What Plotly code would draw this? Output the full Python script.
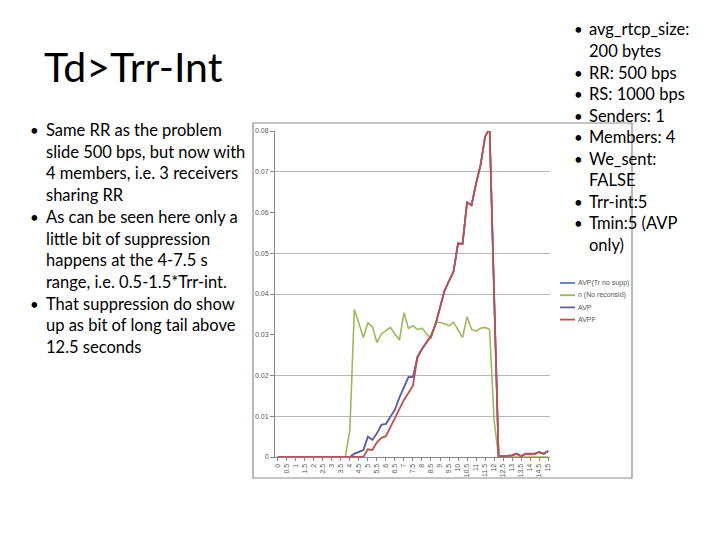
import plotly.graph_objects as go

# ---------------- data ----------------
times = [0, 0.25, 0.5, 0.75, 1, 1.25, 1.5, 1.75, 2, 2.25, 2.5, 2.75, 3, 3.25, 3.5, 3.75,
         4, 4.25, 4.5, 4.75, 5, 5.25, 5.5, 5.75, 6, 6.25, 6.5, 6.75, 7, 7.25, 7.5, 7.75,
         8, 8.25, 8.5, 8.75, 9, 9.25, 9.5, 9.75, 10, 10.25, 10.5, 10.75, 11, 11.25, 11.5, 11.75,
         12, 12.25, 12.5, 12.75, 13, 13.25, 13.5, 13.75, 14, 14.25, 14.5, 14.75, 15]

avp_no_supp = [0, 0, 0, 0, 0, 0, 0, 0, 0, 0, 0, 0, 0, 0, 0, 0,
               0, 0.0008, 0.0012, 0.0017, 0.0050, 0.0042, 0.0058, 0.0079, 0.0081, 0.0100, 0.0116, 0.0146,
               0.0171, 0.0196, 0.0196, 0.0245, 0.0265, 0.0281, 0.0297, 0.0325, 0.0368, 0.0408, 0.0432, 0.0455,
               0.0524, 0.0523, 0.0625, 0.0618, 0.0671, 0.0717, 0.0786, 0.0807, 0.0400, 0.0002, 0.0002, 0.0003,
               0.0004, 0.0008, 0.0002, 0.0008, 0.0008, 0.0008, 0.0012, 0.0008, 0.0015]

no_reconsid = [0, 0, 0, 0, 0, 0, 0, 0, 0, 0, 0, 0, 0, 0, 0, 0,
               0.0066, 0.0362, 0.0328, 0.0293, 0.0329, 0.0320, 0.0281, 0.0302, 0.0310, 0.0318, 0.0302, 0.0287,
               0.0354, 0.0316, 0.0322, 0.0313, 0.0316, 0.0304, 0.0290, 0.0330, 0.0330, 0.0327, 0.0322, 0.0331,
               0.0311, 0.0293, 0.0344, 0.0313, 0.0309, 0.0316, 0.0318, 0.0313, 0.0090, 0, 0, 0,
               0, 0, 0, 0, 0, 0, 0, 0, 0]

avp = [0, 0, 0, 0, 0, 0, 0, 0, 0, 0, 0, 0, 0, 0, 0, 0,
       0, 0.0008, 0.0012, 0.0017, 0.0050, 0.0042, 0.0058, 0.0079, 0.0081, 0.0100, 0.0116, 0.0146,
       0.0171, 0.0196, 0.0196, 0.0245, 0.0265, 0.0281, 0.0297, 0.0325, 0.0368, 0.0408, 0.0432, 0.0455,
       0.0524, 0.0523, 0.0625, 0.0618, 0.0671, 0.0717, 0.0786, 0.0807, 0.0400, 0.0002, 0.0002, 0.0003,
       0.0004, 0.0008, 0.0002, 0.0008, 0.0008, 0.0008, 0.0012, 0.0008, 0.0015]

avpf = [0, 0, 0, 0, 0, 0, 0, 0, 0, 0, 0, 0, 0, 0, 0, 0,
        0, 0, 0, 0, 0.0019, 0.0017, 0.0036, 0.0047, 0.0051, 0.0074, 0.0093, 0.0120,
        0.0140, 0.0157, 0.0175, 0.0245, 0.0265, 0.0281, 0.0297, 0.0325, 0.0368, 0.0408, 0.0432, 0.0455,
        0.0524, 0.0523, 0.0625, 0.0618, 0.0671, 0.0717, 0.0786, 0.0807, 0.0400, 0.0002, 0.0002, 0.0003,
        0.0004, 0.0008, 0.0002, 0.0008, 0.0008, 0.0008, 0.0012, 0.0008, 0.0015]

x_tick_vals = [0, 0.5, 1, 1.5, 2, 2.5, 3, 3.5, 4, 4.5, 5, 5.5, 6, 6.5, 7, 7.5, 8, 8.5, 9, 9.5,
               10, 10.5, 11, 11.5, 12, 12.5, 13, 13.5, 14, 14.5, 15]
x_tick_text = ["0", "0.5", "1", "1.5", "2", "2.5", "3", "3.5", "4", "4.5", "5", "5.5", "6", "6.5",
               "7", "7.5", "8", "8.5", "9", "9.5", "10", "10.5", "11", "11.5", "12", "12.5", "13",
               "13.5", "14", "14.5", "15"]
y_tick_vals = [0, 0.01, 0.02, 0.03, 0.04, 0.05, 0.06, 0.07, 0.08]
y_tick_text = ["0", "0.01", "0.02", "0.03", "0.04", "0.05", "0.06", "0.07", "0.08"]
y_grid_vals = [0.01, 0.02, 0.04, 0.05, 0.07, 0.08]

series_names = ["AVP(Tr no supp)", "n (No reconsid)", "AVP", "AVPF"]
series_colors = ["#4F81BD", "#9BBB59", "#6A5AA8", "#C0504D"]

title_text = "Td&gt;Trr-Int"
left_lines = [
    ("•", "Same RR as the problem"),
    ("", "slide 500 bps, but now with"),
    ("", "4 members, i.e. 3 receivers"),
    ("", "sharing RR"),
    ("•", "As can be seen here only a"),
    ("", "little bit of suppression"),
    ("", "happens at the 4-7.5 s"),
    ("", "range, i.e. 0.5-1.5*Trr-int."),
    ("•", "That suppression do show"),
    ("", "up as bit of long tail above"),
    ("", "12.5 seconds"),
]
right_lines = [
    ("•", "avg_rtcp_size:"),
    ("", "200 bytes"),
    ("•", "RR: 500 bps"),
    ("•", "RS: 1000 bps"),
    ("•", "Senders: 1"),
    ("•", "Members: 4"),
    ("•", "We_sent:"),
    ("", "FALSE"),
    ("•", "Trr-int:5"),
    ("•", "Tmin:5 (AVP"),
    ("", "only)"),
]

# ---------------- layout helpers ----------------
OFF = 8  # page body margin of the html page
W, H = 720 - OFF, 540 - OFF
ML, MT = 275 - OFF, 131 - OFF
PW, PH = 275, 326
MR, MB = W - ML - PW, H - MT - PH


def px_x(px):
    return (px - OFF - ML) / PW


def px_y(py):
    return 1 - (py - OFF - MT) / PH


fig = go.Figure()
for name, col, vals, wd in zip(series_names, series_colors,
                               [avp_no_supp, no_reconsid, avp, avpf], [1.6, 1.6, 1.6, 1.8]):
    fig.add_trace(go.Scatter(x=times, y=vals, mode="lines", name=name,
                             line=dict(color=col, width=wd), showlegend=False))

# invisible trace to carry the partial gridlines on a second y axis
fig.add_trace(go.Scatter(x=[times[0]], y=[0], yaxis="y2", mode="lines",
                         showlegend=False, hoverinfo="skip", line=dict(width=0)))

chart_font = dict(family="Liberation Sans, Arial, sans-serif", size=7, color="#595959")
slide_font = "Lato, Calibri, sans-serif"

annotations = []
shapes = [dict(type="rect", xref="paper", yref="paper", layer="below",
               x0=px_x(253), x1=px_x(632), y0=px_y(478), y1=px_y(123),
               line=dict(color="#8C8C8C", width=1.2), fillcolor="rgba(0,0,0,0)")]

# legend (compact, Excel-like spacing)
for i, (name, col) in enumerate(zip(series_names, series_colors)):
    yy = px_y(283 + i * 12.2)
    shapes.append(dict(type="line", xref="paper", yref="paper",
                       x0=px_x(560), x1=px_x(575), y0=yy, y1=yy,
                       line=dict(color=col, width=1.8)))
    annotations.append(dict(text=name, x=px_x(576), y=yy, xref="paper", yref="paper",
                            xanchor="left", yanchor="middle", showarrow=False,
                            font=chart_font))

annotations.append(dict(text=title_text, x=px_x(42), y=px_y(66), xref="paper", yref="paper",
                        xanchor="left", yanchor="middle", showarrow=False,
                        font=dict(family=slide_font, size=41, color="#000000")))
for i, (b, t) in enumerate(left_lines):
    yy = px_y(130 + i * 21.7)
    if b:
        annotations.append(dict(text=b, x=px_x(28), y=yy, xref="paper", yref="paper",
                                xanchor="left", yanchor="middle", showarrow=False,
                                font=dict(family=slide_font, size=15, color="#000000")))
    annotations.append(dict(text=t, x=px_x(44), y=yy, xref="paper", yref="paper",
                            xanchor="left", yanchor="middle", showarrow=False,
                            font=dict(family=slide_font, size=16.5, color="#000000")))
for i, (b, t) in enumerate(right_lines):
    yy = px_y(29.5 + i * 21.55)
    if b:
        annotations.append(dict(text=b, x=px_x(572), y=yy, xref="paper", yref="paper",
                                xanchor="left", yanchor="middle", showarrow=False,
                                font=dict(family=slide_font, size=15, color="#000000")))
    annotations.append(dict(text=t, x=px_x(587), y=yy, xref="paper", yref="paper",
                            xanchor="left", yanchor="middle", showarrow=False,
                            font=dict(family=slide_font, size=16.5, color="#000000")))

fig.update_layout(
    width=W, height=H,
    margin=dict(l=ML, r=MR, t=MT, b=MB, pad=0),
    paper_bgcolor="#FFFFFF", plot_bgcolor="#FFFFFF",
    showlegend=False,
    xaxis=dict(range=[-0.15, 15.1], tickmode="array", tickvals=x_tick_vals, ticktext=x_tick_text,
               tickangle=-90, tickfont=chart_font, showgrid=False, zeroline=False,
               showline=True, linecolor="#868686", linewidth=1,
               ticks="outside", ticklen=3, tickcolor="#868686"),
    yaxis=dict(range=[0, 0.08], tickmode="array", tickvals=y_tick_vals, ticktext=y_tick_text,
               tickfont=chart_font, showgrid=False, zeroline=False,
               showline=True, linecolor="#868686", linewidth=1,
               ticks="outside", ticklen=4, tickcolor="#868686"),
    yaxis2=dict(range=[0, 0.08], overlaying="y", tickmode="array", tickvals=y_grid_vals,
                showticklabels=False, showgrid=True, gridcolor="#B8B8B8", gridwidth=1,
                zeroline=False, showline=False, ticks=""),
    annotations=annotations,
    shapes=shapes,
)

fig.write_html("out.html")
